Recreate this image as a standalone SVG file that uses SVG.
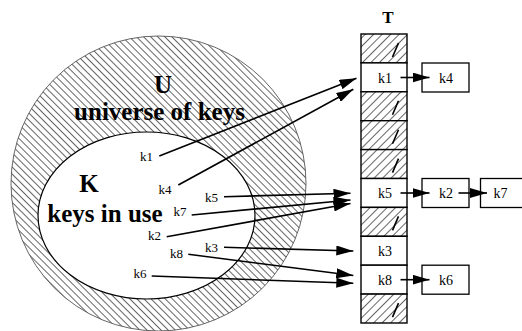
<svg xmlns="http://www.w3.org/2000/svg" width="522" height="331" viewBox="0 0 522 331">
<style>
.lbl{font-family:"Liberation Serif","Times New Roman",serif;font-size:13px;fill:#000}
.ctext{font-family:"Liberation Serif","Times New Roman",serif;font-size:14px;fill:#000;text-anchor:middle}
.big{font-family:"Liberation Serif","Times New Roman",serif;font-size:25px;font-weight:bold;fill:#000;text-anchor:middle}
.cell{stroke:#000;stroke-width:1.4}
.hat{fill:url(#hatchT)}
.plain{fill:#fff}
.nil{stroke:#000;stroke-width:1.6}
.box{fill:#fff;stroke:#000;stroke-width:1.3}
.arr{stroke:#000;stroke-width:1.6;fill:none;marker-end:url(#ah)}
</style>
<defs>
<pattern id="hatchU" patternUnits="userSpaceOnUse" width="5" height="10" patternTransform="rotate(-45)">
<rect width="5" height="10" fill="#fff"/>
<line x1="0.5" y1="0" x2="0.5" y2="10" stroke="#333" stroke-width="0.75"/>
</pattern>
<pattern id="hatchT" patternUnits="userSpaceOnUse" width="6" height="10" patternTransform="rotate(45)">
<rect width="6" height="10" fill="#fff"/>
<line x1="0.5" y1="0" x2="0.5" y2="10" stroke="#333" stroke-width="0.75"/>
</pattern>
<marker id="ah" markerUnits="userSpaceOnUse" markerWidth="18" markerHeight="10" refX="17" refY="5" orient="auto">
<path d="M0,0 L17,5 L0,10 Z" fill="#000"/>
</marker>
</defs>

<g id="U">
<circle cx="158.5" cy="183.5" r="147.5" fill="url(#hatchU)" stroke="#555" stroke-width="0.9"/>
<text class="big" x="163" y="93">U</text>
<text class="big" x="159.5" y="120">universe of keys</text>
</g>

<g id="K">
<ellipse cx="146.5" cy="215.5" rx="108.5" ry="83.5" fill="#fff" stroke="#000" stroke-width="1.2"/>
<text class="big" x="89" y="191.5">K</text>
<text class="big" x="105" y="221.5">keys in use</text>
</g>

<g id="keys">
<text class="lbl" x="140" y="160.5">k1</text>
<text class="lbl" x="158.5" y="193.5">k4</text>
<text class="lbl" x="205" y="201.5">k5</text>
<text class="lbl" x="173.5" y="215.5">k7</text>
<text class="lbl" x="148" y="240">k2</text>
<text class="lbl" x="205" y="251.5">k3</text>
<text class="lbl" x="170" y="258">k8</text>
<text class="lbl" x="133.5" y="277.5">k6</text>
</g>

<g id="T">
<text x="388" y="23" style="font-family:'Liberation Serif','Times New Roman',serif;font-size:17px;font-weight:bold;text-anchor:middle">T</text>
<rect class="cell hat" x="361" y="34" width="46" height="28.9"/>
<rect class="cell plain" x="361" y="62.9" width="46" height="28.9"/>
<rect class="cell hat" x="361" y="91.8" width="46" height="28.9"/>
<rect class="cell hat" x="361" y="120.7" width="46" height="28.9"/>
<rect class="cell hat" x="361" y="149.6" width="46" height="28.9"/>
<rect class="cell plain" x="361" y="178.5" width="46" height="28.9"/>
<rect class="cell hat" x="361" y="207.4" width="46" height="28.9"/>
<rect class="cell plain" x="361" y="236.3" width="46" height="28.9"/>
<rect class="cell plain" x="361" y="265.2" width="46" height="28.9"/>
<rect class="cell hat" x="361" y="294.1" width="46" height="28.9"/>
<line class="nil" x1="392.5" y1="57" x2="398.5" y2="43"/>
<line class="nil" x1="392.5" y1="114.8" x2="398.5" y2="100.8"/>
<line class="nil" x1="392.5" y1="143.7" x2="398.5" y2="129.7"/>
<line class="nil" x1="392.5" y1="172.6" x2="398.5" y2="158.6"/>
<line class="nil" x1="392.5" y1="230.4" x2="398.5" y2="216.4"/>
<line class="nil" x1="392.5" y1="317.1" x2="398.5" y2="303.1"/>
<text class="ctext" x="385" y="82.5">k1</text>
<text class="ctext" x="385" y="198">k5</text>
<text class="ctext" x="385" y="256">k3</text>
<text class="ctext" x="385" y="284.8">k8</text>
</g>

<g id="n_k4">
<rect class="box" x="422" y="63" width="47" height="29"/>
<text class="ctext" x="446" y="82.5">k4</text>
</g>
<g id="n_k2">
<rect class="box" x="422" y="178.5" width="47" height="29"/>
<text class="ctext" x="446" y="198">k2</text>
</g>
<g id="n_k7">
<rect class="box" x="480.5" y="178.5" width="47" height="29"/>
<text class="ctext" x="500.5" y="198">k7</text>
</g>
<g id="n_k6">
<rect class="box" x="422" y="265.2" width="47" height="29"/>
<text class="ctext" x="446" y="284.8">k6</text>
</g>

<g id="connectors">
<line class="arr" x1="159.3" y1="156" x2="356.5" y2="78.3"/>
<line class="arr" x1="178.3" y1="185" x2="353.3" y2="89.3"/>
<line class="arr" x1="224" y1="196.7" x2="350.5" y2="193.3"/>
<line class="arr" x1="191.7" y1="215" x2="350.5" y2="200"/>
<line class="arr" x1="166.7" y1="236.7" x2="350.5" y2="203.5"/>
<line class="arr" x1="224" y1="247.3" x2="353.3" y2="251"/>
<line class="arr" x1="188.3" y1="254.3" x2="353.3" y2="275.5"/>
<line class="arr" x1="151.7" y1="276" x2="353.3" y2="283.3"/>
<line class="arr" x1="400.5" y1="77.5" x2="429.5" y2="77.5"/>
<line class="arr" x1="400.5" y1="193" x2="429.5" y2="193"/>
<line class="arr" x1="458.5" y1="193" x2="487" y2="193"/>
<line class="arr" x1="400.5" y1="279.7" x2="429.5" y2="279.7"/>
</g>
</svg>
